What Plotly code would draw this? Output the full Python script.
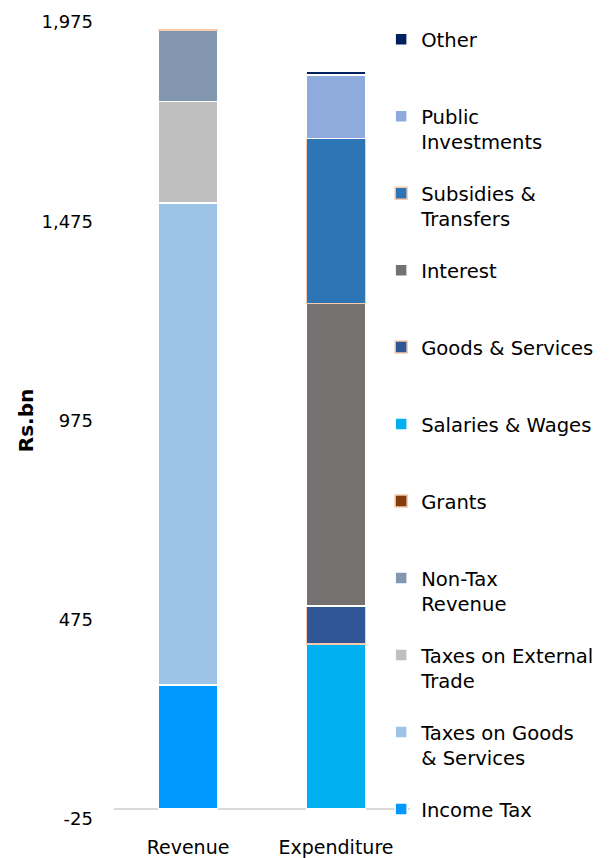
import plotly.graph_objects as go

categories = ["Revenue", "Expenditure"]

series_names = ["Income Tax", "Taxes on Goods<br>& Services", "Taxes on External<br>Trade",
                "Non-Tax<br>Revenue", "Grants", "Salaries & Wages", "Goods & Services",
                "Interest", "Subsidies &<br>Transfers", "Public<br>Investments", "Other"]
revenue_values = [311, 1210, 254, 180, 5, 0, 0, 0, 0, 0, 0]
expenditure_values = [0, 0, 0, 0, 0, 414, 95, 759, 414, 160, 10]
colors = ["#0099FF", "#9DC3E6", "#BFBFBF", "#8497B0", "#843C0C", "#00B0F0", "#2F5597",
          "#767171", "#2E75B6", "#8FAADC", "#002060"]
edge_colors = ["white", "white", "white", "white", "#F8CBAD", "white", "#F8CBAD",
               "white", "#F8CBAD", "white", "white"]
tick_values = [-25, 475, 975, 1475, 1975]
tick_labels = [f"{v:,}" for v in tick_values]

font_family = "'DejaVu Sans', sans-serif"

fig = go.Figure()
n = len(series_names)
for i, name in enumerate(series_names):
    # pad single-line entries so every legend entry has the same height (except the last one)
    label = name if ("<br>" in name or i == 0) else name + "<br>\u00a0"
    fig.add_trace(go.Bar(
        x=categories,
        y=[revenue_values[i], expenditure_values[i]],
        name=label,
        legendgroup=f"g{i}",
        legendrank=100 + (n - i),
        marker=dict(color=colors[i], line=dict(color=edge_colors[i], width=1.5)),
    ))

fig.update_layout(
    template="none",
    barmode="stack",
    bargap=0.6,
    width=611, height=858,
    margin=dict(l=106, r=209, t=4, b=8, autoexpand=False),
    paper_bgcolor="white", plot_bgcolor="white",
    font=dict(family=font_family, size=18, color="#000000"),
    legend=dict(
        x=0.9025, xanchor="left", y=0.9905, yanchor="top",
        traceorder="grouped", tracegroupgap=23.0, valign="top",
        bgcolor="rgba(0,0,0,0)",
        font=dict(size=19.6, color="#000000"),
        itemwidth=30,
    ),
    xaxis=dict(showline=False, showgrid=False, ticks="", automargin=False,
               ticklabelstandoff=15, tickfont=dict(size=19)),
    yaxis=dict(
        domain=[0.0461, 0.9882], automargin=False,
        range=[-25, 1975], tickvals=tick_values, ticktext=tick_labels,
        showgrid=False, zeroline=True, zerolinecolor="#D9D9D9", zerolinewidth=2,
        showline=False, ticks="", ticklabelstandoff=20, tickfont=dict(size=18),
        title=dict(text="<b>Rs.bn</b>", font=dict(size=20), standoff=2),
    ),
)

fig.write_html("out.html")
